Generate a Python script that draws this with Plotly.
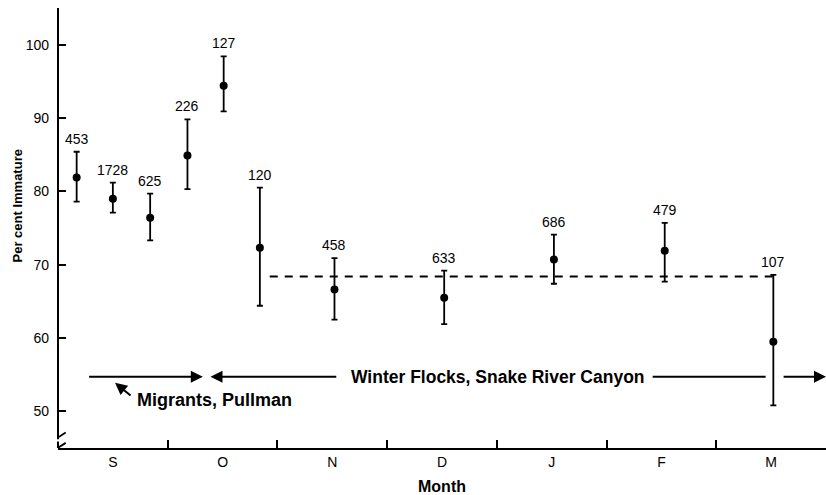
import plotly.graph_objects as go

# ---- data ----
months = ["S", "O", "N", "D", "J", "F", "M"]
month_pos = [0.5, 1.5, 2.5, 3.5, 4.5, 5.5, 6.5]
month_bounds = [1, 2, 3, 4, 5, 6]

x_pos = [0.17, 0.50, 0.84, 1.18, 1.51, 1.84, 2.52, 3.52, 4.52, 5.53, 6.52]
pct = [81.9, 79.0, 76.4, 84.9, 94.4, 72.3, 66.6, 65.5, 70.7, 71.9, 59.5]
upper = [85.4, 81.2, 79.7, 89.8, 98.4, 80.5, 70.9, 69.2, 74.1, 75.7, 68.6]
lower = [78.6, 77.1, 73.3, 80.3, 90.9, 64.4, 62.5, 61.9, 67.4, 67.7, 50.8]
n_labels = ["453", "1728", "625", "226", "127", "120", "458", "633", "686", "479", "107"]

winter_mean = 68.4
winter_span = [1.93, 6.52]

y_ticks = [50, 60, 70, 80, 90, 100]

err_plus = [u - p for u, p in zip(upper, pct)]
err_minus = [p - l for p, l in zip(pct, lower)]

FONT = "Liberation Sans"

fig = go.Figure()

fig.add_trace(go.Scatter(
    x=winter_span, y=[winter_mean, winter_mean], mode="lines",
    line=dict(color="black", width=2, dash="8px,7px"), hoverinfo="skip",
))

fig.add_trace(go.Scatter(
    x=x_pos, y=pct, mode="markers",
    marker=dict(color="black", size=8),
    error_y=dict(type="data", symmetric=False, array=err_plus, arrayminus=err_minus,
                 color="black", thickness=1.8, width=3),
))

for x, u, t in zip(x_pos, upper, n_labels):
    fig.add_annotation(x=x, y=u, text=t, showarrow=False, yanchor="bottom", yshift=3,
                       font=dict(family=FONT, size=14, color="black"))

# period arrows
arrow_y = 54.7
ann_arrows = [
    # (tail_x, head_x)
    (0.27, 1.32),
    (2.55, 1.39),
    (6.60, 7.0),
]
for tx, hx in ann_arrows:
    fig.add_annotation(x=hx, y=arrow_y, ax=tx, ay=arrow_y, xref="x", yref="y",
                       axref="x", ayref="y", showarrow=True, arrowhead=2,
                       arrowsize=1.2, arrowwidth=2, arrowcolor="black", text="")
fig.add_shape(type="line", x0=5.42, x1=6.45, y0=arrow_y, y1=arrow_y,
              line=dict(color="black", width=2))

fig.add_annotation(x=4.006, y=arrow_y, text="<b>Winter Flocks, Snake River Canyon</b>",
                   showarrow=False, font=dict(family=FONT, size=17.5, color="black"))
fig.add_annotation(x=0.70, y=51.6, text="<b>Migrants, Pullman</b>", xanchor="left",
                   showarrow=False, font=dict(family=FONT, size=18, color="black"))
fig.add_annotation(x=0.52, y=53.9, ax=0.675, ay=52.0, xref="x", yref="y",
                   axref="x", ayref="y", showarrow=True, arrowhead=2,
                   arrowsize=1.2, arrowwidth=2, arrowcolor="black", text="")

# y-axis title
fig.add_annotation(xref="paper", yref="y", x=0, y=78.0, xshift=-51,
                   text="<b>Per cent Immature</b>", textangle=-90, showarrow=False,
                   font=dict(family=FONT, size=13, color="black"))

# y axis with break
fig.add_shape(type="line", xref="paper", yref="y", x0=0, x1=0, y0=46.2, y1=105,
              line=dict(color="black", width=2))
fig.add_shape(type="line", xref="paper", yref="y", x0=0, x1=0, y0=45, y1=45.9,
              line=dict(color="black", width=2))
for y0 in [46.0, 44.6]:
    fig.add_shape(type="line", xref="x", yref="y", x0=-0.055, x1=0.07,
                  y0=y0 - 0.1, y1=y0 + 1.1, line=dict(color="black", width=1.8))

fig.update_layout(
    width=826, height=495,
    margin=dict(l=58, r=0, t=8, b=47),
    plot_bgcolor="white", paper_bgcolor="white",
    showlegend=False,
    font=dict(family=FONT, color="black"),
    xaxis=dict(
        range=[0, 7.0], showgrid=False, zeroline=False,
        showline=True, linecolor="black", linewidth=2,
        tickmode="array", tickvals=month_pos, ticktext=months, ticks="",
        tickfont=dict(family=FONT, size=14),
        minor=dict(tickmode="array", tickvals=month_bounds, ticks="inside",
                   ticklen=8, tickcolor="black", tickwidth=1.5, showgrid=False),
        title=dict(text="<b>Month</b>", font=dict(family=FONT, size=16), standoff=12),
    ),
    yaxis=dict(
        range=[45, 105], showgrid=False, zeroline=False, showline=False,
        tickmode="array", tickvals=y_ticks, ticks="inside", ticklen=8,
        tickcolor="black", tickwidth=1.5, ticklabelstandoff=8,
        tickfont=dict(family=FONT, size=14),
    ),
)

fig.write_html("out.html")
